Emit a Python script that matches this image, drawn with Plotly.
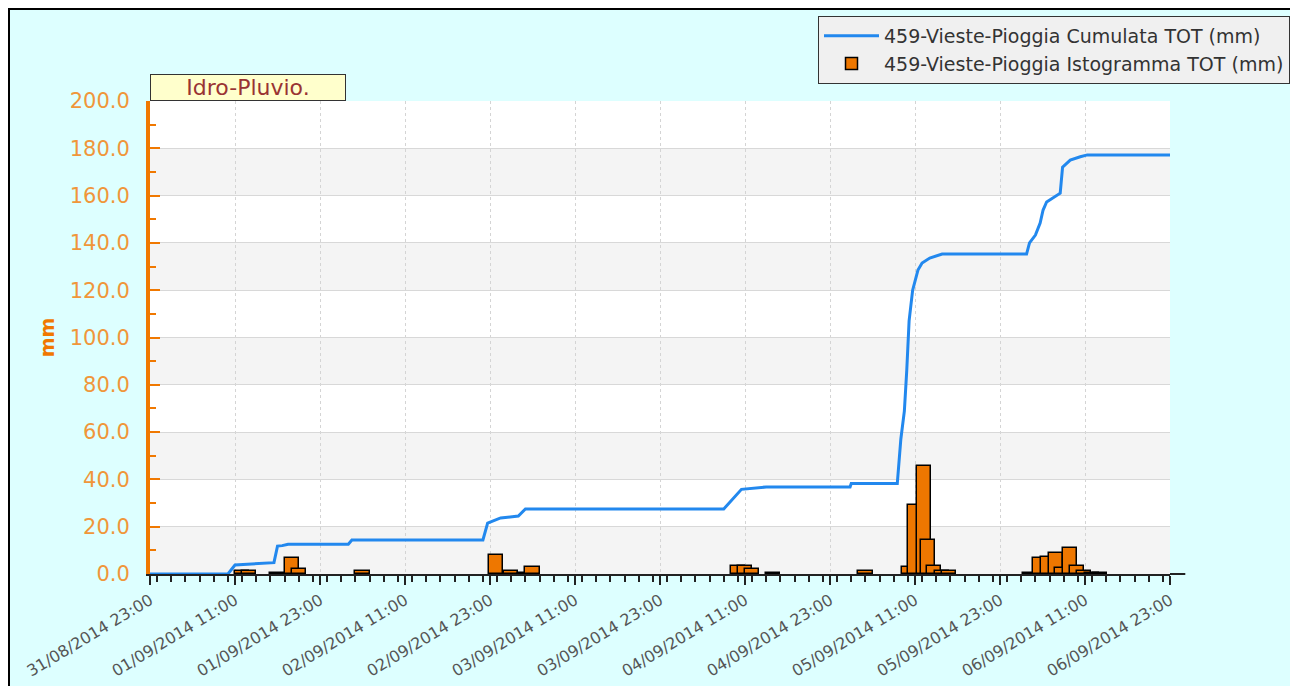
import plotly.graph_objects as go

# cumulata (mm)
cum_time = ["2014-08-31 23:00", "2014-09-01 10:00", "2014-09-01 11:00", "2014-09-01 16:30",
            "2014-09-01 17:00", "2014-09-01 17:40", "2014-09-01 18:30", "2014-09-02 03:00",
            "2014-09-02 03:30", "2014-09-02 22:00", "2014-09-02 22:40", "2014-09-03 00:30",
            "2014-09-03 03:00", "2014-09-03 04:00", "2014-09-04 08:00", "2014-09-04 09:00",
            "2014-09-04 10:30", "2014-09-04 14:00", "2014-09-05 01:50", "2014-09-05 02:00",
            "2014-09-05 08:30", "2014-09-05 09:00", "2014-09-05 09:30", "2014-09-05 09:50",
            "2014-09-05 10:10", "2014-09-05 10:40", "2014-09-05 11:25", "2014-09-05 12:00",
            "2014-09-05 13:05", "2014-09-05 14:50", "2014-09-06 02:45", "2014-09-06 03:10",
            "2014-09-06 04:00", "2014-09-06 04:40", "2014-09-06 05:05", "2014-09-06 05:35",
            "2014-09-06 07:30", "2014-09-06 07:50", "2014-09-06 08:55", "2014-09-06 10:20",
            "2014-09-06 11:20", "2014-09-06 23:00"]
cum_val = [0.0, 0.0, 3.8, 4.8,
           11.8, 12.0, 12.6, 12.6,
           14.4, 14.4, 21.5, 23.7,
           24.5, 27.5, 27.5, 31.0,
           35.8, 36.8, 36.8, 38.3,
           38.3, 57.0, 69.0, 86.0,
           107.0, 120.0, 128.5, 131.5,
           133.6, 135.3, 135.3, 140.0,
           143.3, 148.4, 153.9, 157.3,
           161.0, 172.0, 175.0, 176.4,
           177.2, 177.2]

# istogramma (mm), barre da 2 ore
bar_time = ["2014-09-01 12:00", "2014-09-01 13:00", "2014-09-01 17:00", "2014-09-01 19:00",
            "2014-09-01 20:00", "2014-09-02 05:00", "2014-09-02 23:50", "2014-09-03 02:00",
            "2014-09-03 04:00", "2014-09-03 05:00", "2014-09-04 10:00", "2014-09-04 11:00",
            "2014-09-04 12:00", "2014-09-04 15:00", "2014-09-05 04:00", "2014-09-05 10:10",
            "2014-09-05 11:00", "2014-09-05 12:15", "2014-09-05 12:50", "2014-09-05 13:40",
            "2014-09-05 14:50", "2014-09-05 15:50", "2014-09-06 03:15", "2014-09-06 04:40",
            "2014-09-06 05:50", "2014-09-06 06:55", "2014-09-06 07:50", "2014-09-06 08:55",
            "2014-09-06 09:55", "2014-09-06 10:55", "2014-09-06 12:00", "2014-09-06 13:05"]
bar_val = [1.4, 1.4, 0.5, 6.6,
           2.1, 1.4, 8.0, 1.4,
           0.5, 2.8, 3.4, 3.4,
           2.0, 0.5, 1.4, 2.9,
           29.2, 45.8, 14.4, 3.4,
           1.4, 1.4, 0.4, 6.6,
           7.3, 9.0, 2.4, 11.1,
           3.4, 1.4, 0.5, 0.5]

y_bands = [0, 40, 80, 120, 160]

orange = "#f07800"
font_fam = "DejaVu Sans"

# la pagina ha 8px di margine: figura 1290x678, area grafico 1020x473
W, H = 1290, 678
L, T = 142, 93
PW, PH = 1020, 473

fig = go.Figure()

fig.add_trace(go.Scatter(
    x=cum_time, y=cum_val, mode="lines",
    name="459-Vieste-Pioggia Cumulata TOT (mm)",
    line=dict(color="#2288ee", width=3),
))

fig.add_trace(go.Bar(
    x=bar_time, y=bar_val, width=2 * 3600 * 1000,
    name="459-Vieste-Pioggia Istogramma TOT (mm)",
    marker=dict(color="#ee7700", line=dict(color="black", width=1.5)),
))

# bande grigie alternate
for b in y_bands:
    fig.add_shape(type="rect", xref="paper", yref="y", x0=0, x1=1, y0=b, y1=b + 20,
                  fillcolor="#f4f4f4", line_width=0, layer="below")

# bordo pagina (sinistra e in alto)
left_edge = -L / PW
top_edge = (PH + T) / PH
fig.add_shape(type="line", xref="paper", yref="paper", x0=left_edge, x1=1.2, y0=top_edge, y1=top_edge,
              line=dict(color="black", width=4))
fig.add_shape(type="line", xref="paper", yref="paper", x0=left_edge, x1=left_edge, y0=-0.3, y1=top_edge,
              line=dict(color="black", width=4))

# asse x prolungato
fig.add_shape(type="line", xref="paper", yref="paper", x0=1, x1=1.015, y0=0, y1=0,
              line=dict(color="#222222", width=2))

fig.add_annotation(
    text="Idro-Pluvio.", xref="paper", yref="paper", x=0, y=1.0, xanchor="left", yanchor="bottom",
    showarrow=False, width=192, height=23, bgcolor="#ffffcc", bordercolor="#333333", borderwidth=1,
    font=dict(family=font_fam, size=22, color="#993333"),
)

fig.update_layout(
    width=W, height=H,
    margin=dict(l=L, r=W - L - PW, t=T, b=H - T - PH, autoexpand=False),
    paper_bgcolor="#ddffff",
    plot_bgcolor="white",
    font=dict(family=font_fam),
    showlegend=True,
    legend=dict(
        x=(1282 - L) / PW, y=(PH + T - 8) / PH, xanchor="right", yanchor="top",
        bgcolor="#f0f0f0", bordercolor="#333333", borderwidth=1,
        font=dict(family=font_fam, size=19, color="#333333"),
        tracegroupgap=0, itemwidth=55,
    ),
    bargap=0,
)

fig.update_xaxes(
    type="date", automargin=False,
    range=["2014-08-31 23:00", "2014-09-06 23:00"],
    tick0="2014-08-31 23:00", dtick=12 * 3600 * 1000,
    tickformat="%d/%m/%Y %H:%M", tickangle=-31,
    tickfont=dict(family=font_fam, size=16, color="#555555"),
    ticks="outside", ticklen=9, tickwidth=2, tickcolor="#222222",
    minor=dict(dtick=2 * 3600 * 1000, ticks="outside", ticklen=6, tickwidth=2, tickcolor="#222222"),
    showline=True, linecolor="#222222", linewidth=2,
    showgrid=True, gridcolor="#d4d4d4", griddash="dot", gridwidth=1,
    zeroline=False,
)

fig.update_yaxes(
    range=[0, 200], dtick=20, tickformat=".1f", automargin=False,
    tickfont=dict(family=font_fam, size=21, color="#f0963a"),
    ticklabelstandoff=12,
    ticks="inside", ticklen=10, tickwidth=2, tickcolor=orange,
    minor=dict(dtick=10, ticks="inside", ticklen=6, tickwidth=2, tickcolor=orange),
    showline=True, linecolor=orange, linewidth=4,
    showgrid=True, gridcolor="#d8d8d8", gridwidth=1,
    zeroline=False,
    title=dict(text="<b>mm</b>", font=dict(family=font_fam, size=19, color=orange), standoff=11),
)

fig.write_html("out.html")
